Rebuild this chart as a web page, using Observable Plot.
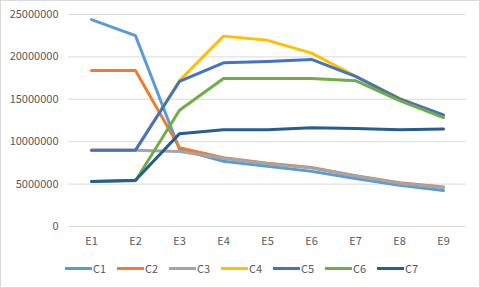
<!DOCTYPE html>
<html>
<head>
<meta charset="utf-8">
<script src="https://cdn.jsdelivr.net/npm/d3@7"></script>
<script src="https://cdn.jsdelivr.net/npm/@observablehq/plot@0.6"></script>
<style>
  html, body { margin: 0; padding: 0; background: #fff; }
  #wrap { position: relative; width: 480px; height: 288px; overflow: hidden; font-family: "Noto Sans CJK SC", "Noto Sans", sans-serif; }
  #frame { position: absolute; left: 0; top: 0; width: 480px; height: 288px; box-sizing: border-box; border: 1px solid #d9d9d9; pointer-events: none; }
  #legend { position: absolute; left: 65px; top: 261px; height: 14px; display: flex; align-items: center; }
  .item { display: flex; align-items: center; width: 52px; font-size: 11px; color: #595959; }
  .swatch { width: 27px; height: 3px; margin-right: 1px; }
</style>
</head>
<body>
<div id="wrap"><div id="chart"></div><div id="legend"></div><div id="frame"></div></div>
<script>
const categories = ["E1", "E2", "E3", "E4", "E5", "E6", "E7", "E8", "E9"];
const seriesNames = ["C1", "C2", "C3", "C4", "C5", "C6", "C7"];
const C1 = [24400000, 22500000, 9100000, 7700000, 7100000, 6500000, 5650000, 4850000, 4250000];
const C2 = [18400000, 18400000, 9300000, 8100000, 7450000, 6950000, 6000000, 5150000, 4650000];
const C3 = [9000000, 9000000, 8850000, 8050000, 7400000, 6900000, 5950000, 5100000, 4600000];
const C4 = [9000000, 9000000, 17200000, 22450000, 21950000, 20450000, 17750000, 15100000, 13100000];
const C5 = [9000000, 9000000, 17100000, 19300000, 19450000, 19700000, 17700000, 15050000, 13150000];
const C6 = [5300000, 5400000, 13700000, 17450000, 17450000, 17450000, 17200000, 14850000, 12850000];
const C7 = [5300000, 5450000, 10950000, 11400000, 11400000, 11650000, 11550000, 11400000, 11500000];
const yTicks = [0, 5000000, 10000000, 15000000, 20000000, 25000000];
const colors = ["#5B9BD5", "#ED7D31", "#A5A5A5", "#FFC000", "#4472C4", "#70AD47", "#255E91"];

const seriesValues = [C1, C2, C3, C4, C5, C6, C7];
const table = [];
seriesNames.forEach((s, i) => {
  categories.forEach((c, j) => table.push({series: s, cat: c, value: seriesValues[i][j]}));
});

const chart = Plot.plot({
  width: 480,
  height: 252,
  marginLeft: 68,
  marginRight: 14,
  marginTop: 14,
  marginBottom: 26,
  style: {color: "#595959", fontFamily: "'Noto Sans CJK SC', 'Noto Sans', sans-serif", fontSize: "11px", background: "transparent"},
  x: {type: "point", domain: categories, padding: 0.5, label: null},
  y: {domain: [0, 25000000], label: null},
  color: {domain: seriesNames, range: colors},
  marks: [
    Plot.ruleY(yTicks, {stroke: "#d9d9d9", strokeWidth: 1}),
    Plot.axisY({ticks: yTicks, tickSize: 0, tickPadding: 10, tickFormat: d => String(d), label: null, fontSize: 11}),
    Plot.axisX({tickSize: 0, tickPadding: 11, label: null, fontSize: 11}),
    Plot.line(table, {x: "cat", y: "value", z: "series", stroke: "series", strokeWidth: 3, strokeLinejoin: "round", strokeLinecap: "round"})
  ]
});
document.getElementById("chart").appendChild(chart);

const legend = document.getElementById("legend");
seriesNames.forEach((s, i) => {
  const item = document.createElement("div");
  item.className = "item";
  const sw = document.createElement("div");
  sw.className = "swatch";
  sw.style.background = colors[i];
  const lab = document.createElement("span");
  lab.textContent = s;
  item.appendChild(sw);
  item.appendChild(lab);
  legend.appendChild(item);
});
</script>
</body>
</html>
